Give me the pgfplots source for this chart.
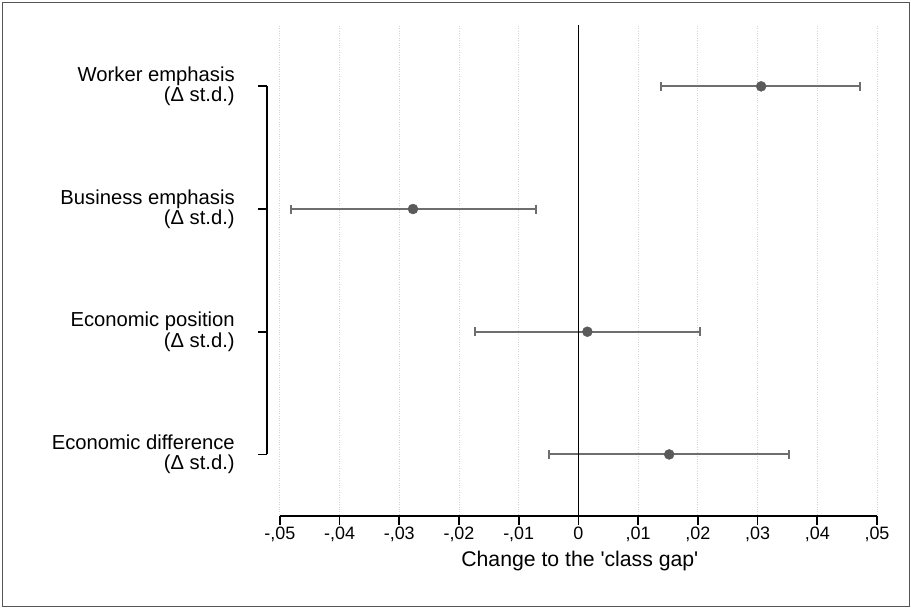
\documentclass[border=0pt]{standalone}
\usepackage{fontspec}
\setmainfont{Liberation Sans}[Ligatures=TeXOff]
\usepackage{pgfplots}
\pgfplotsset{compat=1.18}

\definecolor{ptcol}{HTML}{5A5A5A}
\definecolor{barcol}{HTML}{6E6E6E}
\definecolor{gridcol}{HTML}{D4D4D4}
\definecolor{framecol}{HTML}{555555}

% estimate, lower and upper bound of the interval (errors as distances)
\pgfplotstableread{
y  x       em      ep
4  0.0306  0.0167  0.0166
3 -0.0277  0.0205  0.0206
2  0.0015  0.0188  0.0189
1  0.0152  0.0201  0.0201
}\coefs

\begin{document}
\begin{tikzpicture}[x=1bp,y=1bp]
\useasboundingbox (-266.7,-91.5) rectangle (644.3,516.5);
\draw[framecol, line width=1bp] (-264.2,-90) rectangle (642.8,513.5);
\begin{axis}[
  at={(0,0)}, anchor=south west,
  scale only axis,
  width=610.3bp, height=491.5bp,
  xmin=-0.0522, xmax=0.05,
  ymin=0.494, ymax=4.5,
  axis line style={draw=none},
  scaled x ticks=false,
  xtick={-0.05,-0.04,-0.03,-0.02,-0.01,0,0.01,0.02,0.03,0.04,0.05},
  xticklabels={{-,05},{-,04},{-,03},{-,02},{-,01},{0},{,01},{,02},{,03},{,04},{,05}},
  ytick={1,2,3,4},
  yticklabels={{Economic difference\\(Δ st.d.)},{Economic position\\(Δ st.d.)},{Business emphasis\\(Δ st.d.)},{Worker emphasis\\(Δ st.d.)}},
  xtick pos=bottom, ytick pos=left,
  tick align=outside,
  major tick length=8.5bp,
  every tick/.style={black, line width=1.8bp},
  xmajorgrids,
  major grid style={gridcol, dotted, line width=0.8bp},
  xticklabel style={font=\fontsize{18}{20}\selectfont, yshift=2bp},
  yticklabel style={font=\fontsize{20.3}{20.5}\selectfont, align=right, xshift=-20bp},
  xlabel={Change to the 'class gap'},
  xlabel style={font=\fontsize{21.3}{22}\selectfont, yshift=-3bp, xshift=8bp},
  clip=false,
]
\addplot[only marks, mark=*, mark size=5bp, mark options={ptcol, fill=ptcol},
  error bars/.cd, x dir=both, x explicit,
  error bar style={barcol, line width=2bp},
  error mark options={barcol, line width=2bp, mark size=4.5bp, rotate=90}]
  table[x=x, y=y, x error minus=em, x error plus=ep] {\coefs};
% axes drawn only over their ticks
\draw[black, line width=2bp] (axis cs:-0.05,0.494) -- (axis cs:0.05,0.494);
\draw[black, line width=2bp] (axis cs:-0.0522,1) -- (axis cs:-0.0522,4);
\draw[black, line width=1.8bp] (axis cs:0,0.494) -- (axis cs:0,4.5);
\end{axis}
\end{tikzpicture}
\end{document}
